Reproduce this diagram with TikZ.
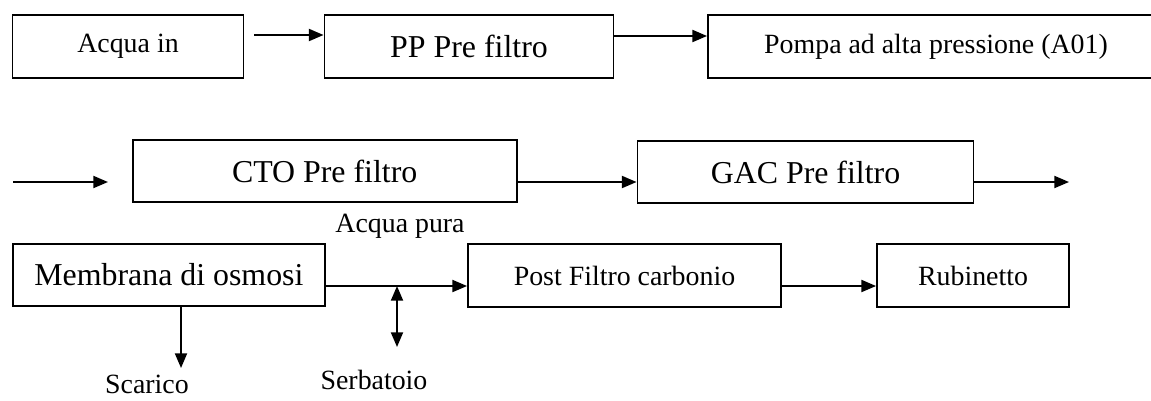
\documentclass[tikz,border=0pt]{standalone}
\usepackage{fontspec}
\setmainfont{Liberation Serif}
\usetikzlibrary{arrows.meta}
\tikzset{
  box/.style={draw, line width=1.4pt, inner sep=0pt, anchor=center},
  smalltxt/.style={font=\fontsize{20.9}{24}\selectfont},
  bigtxt/.style={font=\fontsize{23.9}{28}\selectfont},
  arr/.style={line width=1.4pt, -{Triangle[length=11pt,width=9pt]}},
  darr/.style={line width=1.4pt, {Triangle[length=11pt,width=9pt]}-{Triangle[length=11pt,width=9pt]}},
  lbl/.style={inner sep=0pt, anchor=center}
}
\begin{document}
\begin{tikzpicture}[x=0.75pt, y=-0.75pt]
\useasboundingbox (0,0) rectangle (1151,400);
% row 1
\node[box, smalltxt, minimum width=231*0.75pt, minimum height=63*0.75pt] (acq) at (128,46.5) {Acqua in};
\node[box, bigtxt, minimum width=289*0.75pt, minimum height=63*0.75pt] (pp) at (469,46.5) {PP Pre filtro};
\node[box, smalltxt, minimum width=456*0.75pt, minimum height=63*0.75pt] (pompa) at (936,46.5) {Pompa ad alta pressione (A01)};
\draw[arr] ([xshift=7.5pt]acq.east |- 0,35) -- (pp.west |- 0,35);
\draw[arr] (pp.east |- 0,36) -- (pompa.west |- 0,36);
% row 2
\node[box, bigtxt, minimum width=384*0.75pt, minimum height=62*0.75pt] (cto) at (324.7,171) {CTO Pre filtro};
\node[box, bigtxt, minimum width=336*0.75pt, minimum height=62*0.75pt] (gac) at (805.5,172) {GAC Pre filtro};
\coordinate (in2s) at (13,182);
\coordinate (in2e) at (108,182);
\coordinate (out2) at (1069,182);
\draw[arr] (in2s) -- (in2e);
\draw[arr] (cto.east |- 0,182) -- (gac.west |- 0,182);
\draw[arr] (gac.east |- 0,182) -- (out2);
% row 3
\node[box, bigtxt, minimum width=312*0.75pt, minimum height=62*0.75pt] (mem) at (168.9,275) {Membrana di osmosi};
\node[box, smalltxt, minimum width=313*0.75pt, minimum height=63*0.75pt] (post) at (624.5,275.5) {Post Filtro carbonio};
\node[box, smalltxt, minimum width=192*0.75pt, minimum height=63*0.75pt] (rub) at (973,275.5) {Rubinetto};
\draw[arr] (mem.east |- 0,286) -- (post.west |- 0,286);
\draw[arr] (post.east |- 0,286) -- (rub.west |- 0,286);
\node[lbl, smalltxt] (pura) at (400,226) {Acqua pura};
% outlets
\coordinate (scs) at (181,368);
\node[lbl, smalltxt] (scarico) at (147,384) {Scarico};
\draw[arr] (mem.south -| scs) -- (scs);
\coordinate (tj) at (397,286);
\coordinate (tb) at (397,347);
\node[lbl, smalltxt] (serb) at (374,380) {Serbatoio};
\draw[darr] (tj) -- (tb);
\end{tikzpicture}
\end{document}
